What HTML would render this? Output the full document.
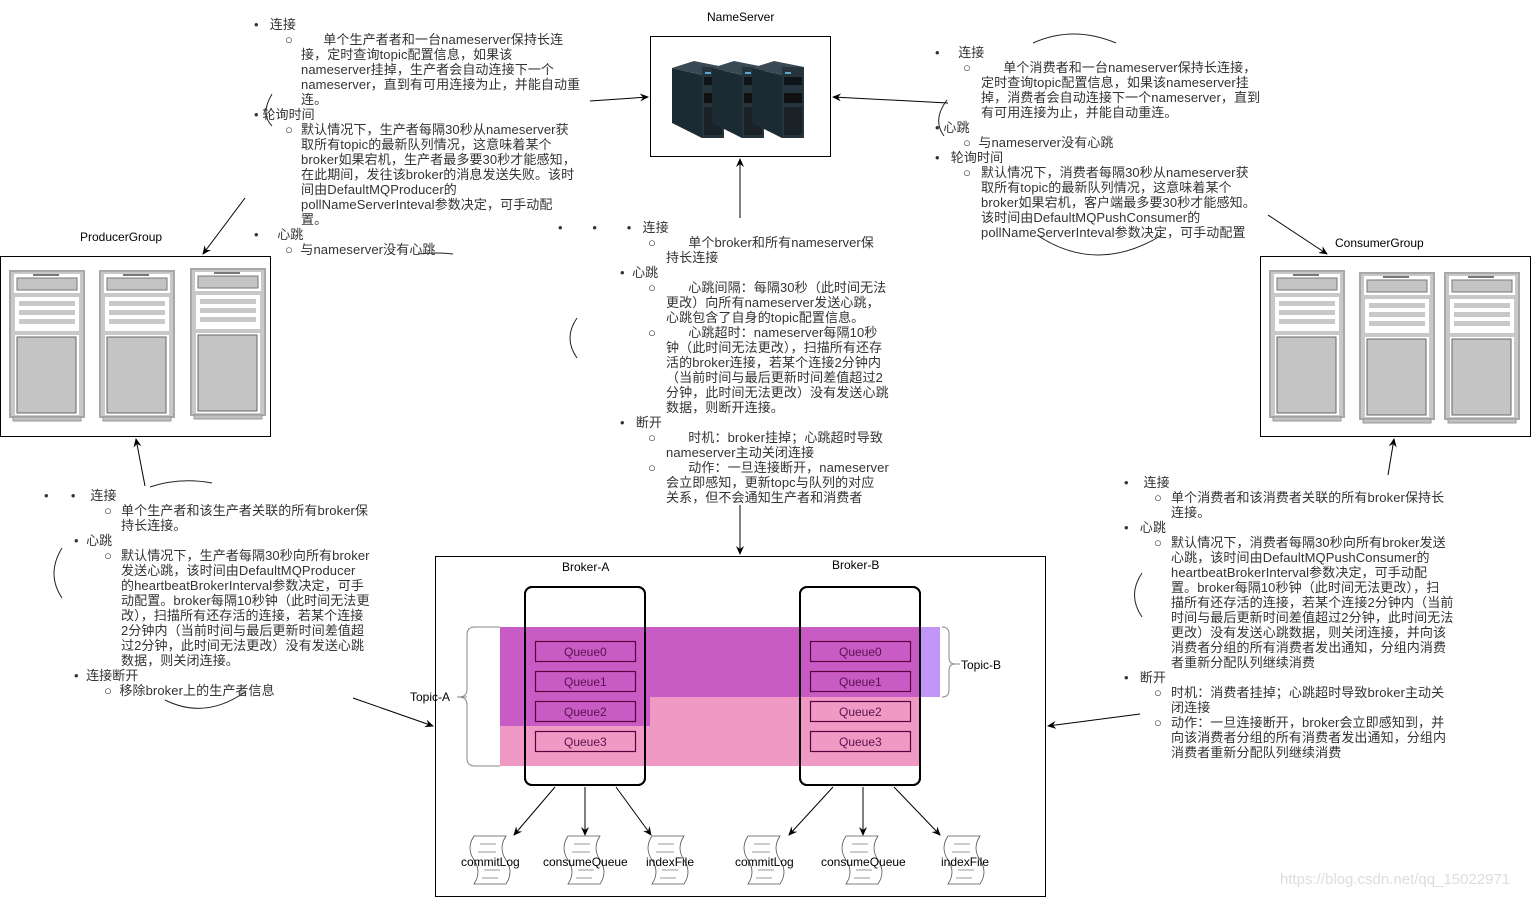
<!DOCTYPE html>
<html><head><meta charset="utf-8">
<style>
body{margin:0;width:1531px;height:898px;background:#fff;position:relative;overflow:hidden;font-family:"Liberation Sans","Noto Sans CJK SC",sans-serif;}
.t{position:absolute;font-size:13px;line-height:15px;color:#333;white-space:nowrap;letter-spacing:0.1px;}
.l{position:absolute;font-size:12px;color:#000;white-space:nowrap;font-family:"Liberation Sans",sans-serif;}
svg{position:absolute;left:0;top:0;}
</style></head><body>
<svg width="1531" height="898" viewBox="0 0 1531 898">
<defs>
<marker id="a" markerWidth="10" markerHeight="10" refX="8" refY="5" orient="auto" markerUnits="userSpaceOnUse"><path d="M0,1 L9,5 L0,9 L3,5 Z" fill="#000"/></marker>
<g id="srv">
<rect x="0" y="0" width="74" height="146" fill="#c8c8c8" stroke="#a8a8a8" stroke-width="2"/>
<rect x="4" y="3" width="66" height="19" fill="#fff"/>
<rect x="7" y="7" width="60" height="12" fill="#c4c4c4" stroke="#777"/>
<rect x="23" y="3" width="26" height="2" fill="#777"/>
<rect x="5" y="26" width="64" height="34" fill="#fff"/>
<rect x="9" y="30" width="56" height="5" fill="#c8c8c8"/>
<rect x="9" y="39" width="56" height="5" fill="#c8c8c8"/>
<rect x="9" y="48" width="56" height="5" fill="#c8c8c8"/>
<rect x="5" y="64" width="64" height="80" fill="#fff"/>
<rect x="7" y="66" width="59" height="76" fill="#c4c4c4" stroke="#666"/>
<rect x="3" y="146" width="68" height="4" fill="#c0c0c0" stroke="#999"/>
</g>
<g id="tower">
<polygon points="0,15 30,22 30,85 0,70" fill="#1c2a33"/>
<polygon points="0,15 22,8 52,14 30,22" fill="#3a4a55"/>
<rect x="30" y="14" width="22" height="71" fill="#25343d"/>
<rect x="32" y="24" width="18" height="8" fill="#0e1418"/>
<rect x="32" y="40" width="18" height="10" fill="#111"/>
<rect x="32" y="54" width="18" height="28" fill="#1a2228"/>
<rect x="33" y="19" width="6" height="2" fill="#5ac"/>
</g>
<g id="doc">
<path d="M6,0 h32 q-8,12 0,24 q8,12 0,24 h-32 q8,-12 0,-24 q-8,-12 0,-24z" fill="#fff" stroke="#555" stroke-width="0.8"/>
<path d="M12,8 h16 M10,16 h18 M16,34 h16 M14,42 h16" stroke="#777" stroke-width="0.8"/>
</g>
</defs>
<rect x="650.5" y="36.5" width="180" height="120" fill="#fff" stroke="#000"/>
<use href="#tower" x="672" y="53"/>
<use href="#tower" x="712" y="53"/>
<use href="#tower" x="752" y="53"/>
<rect x="0.5" y="256.5" width="270" height="180" fill="#fff" stroke="#000"/>
<use href="#srv" x="10" y="271"/><use href="#srv" x="100" y="271"/><use href="#srv" x="191" y="269"/>
<rect x="1260.5" y="256.5" width="270" height="180" fill="#fff" stroke="#000"/>
<use href="#srv" x="1270" y="271"/><use href="#srv" x="1360" y="273"/><use href="#srv" x="1445" y="273"/>
<rect x="435.5" y="556.5" width="610" height="340" fill="#fff" stroke="#000"/>
<rect x="525" y="587" width="120" height="198" rx="7" fill="#fff" stroke="#000" stroke-width="2"/>
<rect x="800" y="587" width="120" height="198" rx="7" fill="#fff" stroke="#000" stroke-width="2"/>
<rect x="500" y="697" width="420" height="69" fill="#ef99c4"/>
<rect x="920" y="627" width="20" height="70" fill="#c196f7"/>
<rect x="500" y="627" width="420" height="70" fill="#c95cc4"/>
<rect x="500" y="697" width="150" height="29" fill="#c95cc4"/>
<rect x="525" y="587" width="120" height="198" rx="7" fill="none" stroke="#000" stroke-width="2"/>
<rect x="800" y="587" width="120" height="198" rx="7" fill="none" stroke="#000" stroke-width="2"/>
<g fill="none" stroke="#5a0040" stroke-width="1.2">
<rect x="535.5" y="641.5" width="100" height="20"/><rect x="535.5" y="671.5" width="100" height="20"/>
<rect x="535.5" y="701.5" width="100" height="20"/><rect x="535.5" y="731.5" width="100" height="20"/>
<rect x="810.5" y="641.5" width="100" height="20"/><rect x="810.5" y="671.5" width="100" height="20"/>
<rect x="810.5" y="701.5" width="100" height="20"/><rect x="810.5" y="731.5" width="100" height="20"/>
</g>
<path d="M500,627 h-25 q-8,0 -8,8 v54 q0,8 -8,8 q8,0 8,8 v53 q0,8 8,8 h25" fill="none" stroke="#888"/>
<path d="M457,697 h10" stroke="#888"/>
<path d="M942,627 q7,0 7,7 v23 q0,7 6,7 q-6,0 -6,7 v19 q0,7 -7,7" fill="none" stroke="#888"/>
<path d="M955,664 h5" stroke="#888"/>
<use href="#doc" x="468" y="836"/><use href="#doc" x="562" y="836"/><use href="#doc" x="646" y="836"/>
<use href="#doc" x="742" y="836"/><use href="#doc" x="840" y="836"/><use href="#doc" x="942" y="836"/>
<g stroke="#000" fill="none" marker-end="url(#a)">
<line x1="555" y1="787" x2="514" y2="835"/>
<line x1="585" y1="787" x2="585" y2="835"/>
<line x1="616" y1="787" x2="651" y2="835"/>
<line x1="833" y1="787" x2="789" y2="835"/>
<line x1="863" y1="787" x2="863" y2="835"/>
<line x1="894" y1="787" x2="940" y2="835"/>
<line x1="740" y1="218" x2="740" y2="159"/>
<line x1="740" y1="505" x2="740" y2="554"/>
<line x1="590" y1="101" x2="648" y2="97"/>
<line x1="948" y1="103" x2="833" y2="97"/>
<line x1="245" y1="198" x2="203" y2="254"/>
<line x1="1268" y1="215" x2="1327" y2="254"/>
<line x1="145" y1="486" x2="136" y2="439"/>
<line x1="1388" y1="475" x2="1394" y2="439"/>
<line x1="353" y1="698" x2="433" y2="726"/>
<line x1="1140" y1="714" x2="1048" y2="726"/>
</g>
<g stroke="#222" fill="none" stroke-width="1">
<path d="M272,94 q-12,20 0,32"/>
<path d="M1033,43 q40,-18 83,0"/>
<path d="M947,100 q-15,20 -3,36"/>
<path d="M1037,235 q60,40 125,0"/>
<path d="M577,318 q-14,20 0,40"/>
<path d="M150,487 q30,-10 62,-4"/>
<path d="M62,548 q-16,26 0,50"/>
<path d="M165,700 q40,20 80,-8"/>
<path d="M1142,573 q-15,22 0,44"/>
<path d="M418,254 q20,-2 35,0"/>
</g>
</svg>

<div class="l" style="left:707px;top:10px">NameServer</div>
<div class="l" style="left:80px;top:230px">ProducerGroup</div>
<div class="l" style="left:1335px;top:236px">ConsumerGroup</div>
<div class="l" style="left:562px;top:560px">Broker-A</div>
<div class="l" style="left:832px;top:558px">Broker-B</div>
<div class="l" style="left:410px;top:690px">Topic-A</div>
<div class="l" style="left:961px;top:658px">Topic-B</div>
<div class="l" style="left:564px;top:645px;color:#5a1050">Queue0</div>
<div class="l" style="left:564px;top:675px;color:#5a1050">Queue1</div>
<div class="l" style="left:564px;top:705px;color:#5a1050">Queue2</div>
<div class="l" style="left:564px;top:735px;color:#5a1050">Queue3</div>
<div class="l" style="left:839px;top:645px;color:#5a1050">Queue0</div>
<div class="l" style="left:839px;top:675px;color:#5a1050">Queue1</div>
<div class="l" style="left:839px;top:705px;color:#5a1050">Queue2</div>
<div class="l" style="left:839px;top:735px;color:#5a1050">Queue3</div>
<div class="l" style="left:461px;top:855px">commitLog</div>
<div class="l" style="left:543px;top:855px">consumeQueue</div>
<div class="l" style="left:646px;top:855px">indexFile</div>
<div class="l" style="left:735px;top:855px">commitLog</div>
<div class="l" style="left:821px;top:855px">consumeQueue</div>
<div class="l" style="left:941px;top:855px">indexFile</div>
<div class="l" style="left:1280px;top:871px;color:#ddd;font-size:15px">https://blog.csdn.net/qq_15022971</div>

<div class="t" style="left:254px;top:17px">•&nbsp;&nbsp;&nbsp;连接</div>
<div class="t" style="left:285px;top:32px">○</div>
<div class="t" style="left:301px;top:32px">&nbsp;&nbsp;&nbsp;&nbsp;&nbsp;&nbsp;单个生产者者和一台nameserver保持长连<br>接，定时查询topic配置信息，如果该<br>nameserver挂掉，生产者会自动连接下一个<br>nameserver，直到有可用连接为止，并能自动重<br>连。</div>
<div class="t" style="left:254px;top:107px">•&nbsp;轮询时间</div>
<div class="t" style="left:285px;top:122px">○</div>
<div class="t" style="left:301px;top:122px">默认情况下，生产者每隔30秒从nameserver获<br>取所有topic的最新队列情况，这意味着某个<br>broker如果宕机，生产者最多要30秒才能感知，<br>在此期间，发往该broker的消息发送失败。该时<br>间由DefaultMQProducer的<br>pollNameServerInteval参数决定，可手动配<br>置。</div>
<div class="t" style="left:254px;top:227px">•&nbsp;&nbsp;&nbsp;&nbsp;&nbsp;心跳</div>
<div class="t" style="left:285px;top:242px">○&nbsp;&nbsp;与nameserver没有心跳</div>

<div class="t" style="left:558px;top:220px">•&nbsp;&nbsp;&nbsp;&nbsp;&nbsp;&nbsp;&nbsp;&nbsp;•&nbsp;&nbsp;&nbsp;&nbsp;&nbsp;&nbsp;&nbsp;&nbsp;•&nbsp;&nbsp;&nbsp;连接</div>
<div class="t" style="left:648px;top:235px">○</div>
<div class="t" style="left:666px;top:235px">&nbsp;&nbsp;&nbsp;&nbsp;&nbsp;&nbsp;单个broker和所有nameserver保<br>持长连接</div>
<div class="t" style="left:620px;top:265px">•&nbsp;&nbsp;心跳</div>
<div class="t" style="left:648px;top:280px">○</div>
<div class="t" style="left:666px;top:280px">&nbsp;&nbsp;&nbsp;&nbsp;&nbsp;&nbsp;心跳间隔：每隔30秒（此时间无法<br>更改）向所有nameserver发送心跳，<br>心跳包含了自身的topic配置信息。</div>
<div class="t" style="left:648px;top:325px">○</div>
<div class="t" style="left:666px;top:325px">&nbsp;&nbsp;&nbsp;&nbsp;&nbsp;&nbsp;心跳超时：nameserver每隔10秒<br>钟（此时间无法更改），扫描所有还存<br>活的broker连接，若某个连接2分钟内<br>（当前时间与最后更新时间差值超过2<br>分钟，此时间无法更改）没有发送心跳<br>数据，则断开连接。</div>
<div class="t" style="left:620px;top:415px">•&nbsp;&nbsp;&nbsp;断开</div>
<div class="t" style="left:648px;top:430px">○</div>
<div class="t" style="left:666px;top:430px">&nbsp;&nbsp;&nbsp;&nbsp;&nbsp;&nbsp;时机：broker挂掉；心跳超时导致<br>nameserver主动关闭连接</div>
<div class="t" style="left:648px;top:460px">○</div>
<div class="t" style="left:666px;top:460px">&nbsp;&nbsp;&nbsp;&nbsp;&nbsp;&nbsp;动作：一旦连接断开，nameserver<br>会立即感知，更新topc与队列的对应<br>关系，但不会通知生产者和消费者</div>

<div class="t" style="left:935px;top:45px">•&nbsp;&nbsp;&nbsp;&nbsp;&nbsp;连接</div>
<div class="t" style="left:963px;top:60px">○</div>
<div class="t" style="left:981px;top:60px">&nbsp;&nbsp;&nbsp;&nbsp;&nbsp;&nbsp;单个消费者和一台nameserver保持长连接，<br>定时查询topic配置信息，如果该nameserver挂<br>掉，消费者会自动连接下一个nameserver，直到<br>有可用连接为止，并能自动重连。</div>
<div class="t" style="left:935px;top:120px">•&nbsp;心跳</div>
<div class="t" style="left:963px;top:135px">○&nbsp;&nbsp;与nameserver没有心跳</div>
<div class="t" style="left:935px;top:150px">•&nbsp;&nbsp;&nbsp;轮询时间</div>
<div class="t" style="left:963px;top:165px">○</div>
<div class="t" style="left:981px;top:165px">默认情况下，消费者每隔30秒从nameserver获<br>取所有topic的最新队列情况，这意味着某个<br>broker如果宕机，客户端最多要30秒才能感知。<br>该时间由DefaultMQPushConsumer的<br>pollNameServerInteval参数决定，可手动配置</div>

<div class="t" style="left:44px;top:488px">•&nbsp;&nbsp;&nbsp;&nbsp;&nbsp;&nbsp;•&nbsp;&nbsp;&nbsp;&nbsp;连接</div>
<div class="t" style="left:104px;top:503px">○</div>
<div class="t" style="left:121px;top:503px">单个生产者和该生产者关联的所有broker保<br>持长连接。</div>
<div class="t" style="left:74px;top:533px">•&nbsp;&nbsp;心跳</div>
<div class="t" style="left:104px;top:548px">○</div>
<div class="t" style="left:121px;top:548px">默认情况下，生产者每隔30秒向所有broker<br>发送心跳，该时间由DefaultMQProducer<br>的heartbeatBrokerInterval参数决定，可手<br>动配置。broker每隔10秒钟（此时间无法更<br>改），扫描所有还存活的连接，若某个连接<br>2分钟内（当前时间与最后更新时间差值超<br>过2分钟，此时间无法更改）没有发送心跳<br>数据，则关闭连接。</div>
<div class="t" style="left:74px;top:668px">•&nbsp;&nbsp;连接断开</div>
<div class="t" style="left:104px;top:683px">○&nbsp;&nbsp;移除broker上的生产者信息</div>

<div class="t" style="left:1124px;top:475px">•&nbsp;&nbsp;&nbsp;&nbsp;连接</div>
<div class="t" style="left:1154px;top:490px">○</div>
<div class="t" style="left:1171px;top:490px">单个消费者和该消费者关联的所有broker保持长<br>连接。</div>
<div class="t" style="left:1124px;top:520px">•&nbsp;&nbsp;&nbsp;心跳</div>
<div class="t" style="left:1154px;top:535px">○</div>
<div class="t" style="left:1171px;top:535px">默认情况下，消费者每隔30秒向所有broker发送<br>心跳，该时间由DefaultMQPushConsumer的<br>heartbeatBrokerInterval参数决定，可手动配<br>置。broker每隔10秒钟（此时间无法更改），扫<br>描所有还存活的连接，若某个连接2分钟内（当前<br>时间与最后更新时间差值超过2分钟，此时间无法<br>更改）没有发送心跳数据，则关闭连接，并向该<br>消费者分组的所有消费者发出通知，分组内消费<br>者重新分配队列继续消费</div>
<div class="t" style="left:1124px;top:670px">•&nbsp;&nbsp;&nbsp;断开</div>
<div class="t" style="left:1154px;top:685px">○</div>
<div class="t" style="left:1171px;top:685px">时机：消费者挂掉；心跳超时导致broker主动关<br>闭连接</div>
<div class="t" style="left:1154px;top:715px">○</div>
<div class="t" style="left:1171px;top:715px">动作：一旦连接断开，broker会立即感知到，并<br>向该消费者分组的所有消费者发出通知，分组内<br>消费者重新分配队列继续消费</div>
</body></html>
